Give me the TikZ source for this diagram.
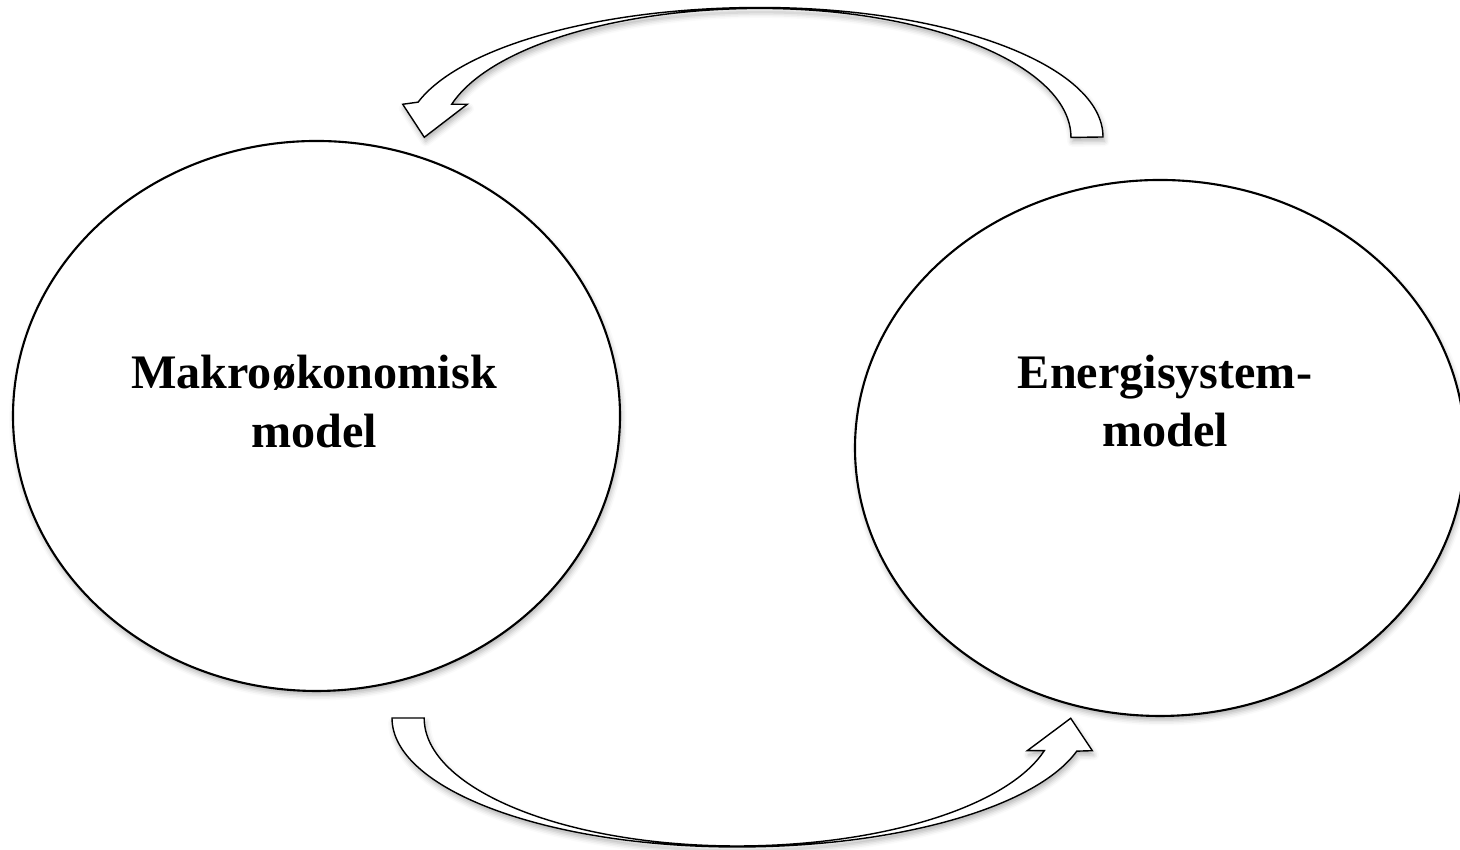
\documentclass[tikz,border=0pt]{standalone}
\usepackage{fontspec}
\setmainfont{Liberation Serif}
\usetikzlibrary{shapes.geometric,shadows.blur}

\begin{document}
\begin{tikzpicture}[
    softshadow/.style={blur shadow={shadow xshift=0.4pt, shadow yshift=-1.2pt, shadow blur radius=1.5pt, shadow opacity=30}},
    modelbox/.style={ellipse, draw, semithick, fill=white, inner sep=0pt, softshadow},
    modeltext/.style={align=center, font=\fontsize{13.7}{16.6}\selectfont\bfseries},
    bendarrow/.style={draw, thin, fill=white, line join=miter, softshadow}]
    \useasboundingbox (0,0) rectangle (14.6,8.5);
    \node [modelbox, minimum width=6.07cm, minimum height=5.5cm] (makro) at (3.165,4.34) {};
    \node [modelbox, minimum width=6.1cm, minimum height=5.36cm] (energi) at (11.6,4.02) {};
    \node [modeltext] (makrotext) at (3.14,4.485) {Makroøkonomisk\\model};
    \node [modeltext] (energitext) at (11.65,4.49) {Energisystem-\\model};
    % top arrow, energi -> makro
    \path [bendarrow] (11.03,7.13) arc (0:90:3.43 and 1.295) arc (90:164.4:3.55 and 1.295)
      -- (4.027,7.457) -- (4.243,7.127) -- (4.673,7.457) -- (4.517,7.457)
      arc (165.1:90:3.19 and 1.29) arc (90:0:3.11 and 1.29) -- cycle;
    % bottom arrow, makro -> energi
    \path [bendarrow] (3.92,1.32) arc (180:270:3.45 and 1.29) arc (270:345.1:3.516 and 1.29)
      -- (10.923,0.993) -- (10.707,1.317) -- (10.273,0.993) -- (10.443,0.993)
      arc (345.2:270:3.18 and 1.28) arc (270:180:3.127 and 1.28) -- cycle;
\end{tikzpicture}
\end{document}
